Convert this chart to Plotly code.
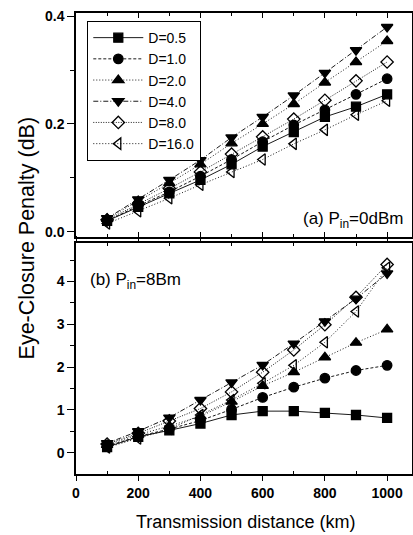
import plotly.graph_objects as go

distance_km = [100, 200, 300, 400, 500, 600, 700, 800, 900, 1000]
series_names = ["D=0.5", "D=1.0", "D=2.0", "D=4.0", "D=8.0", "D=16.0"]

# (a) Pin = 0 dBm
pen_a_d05 = [0.020, 0.046, 0.071, 0.096, 0.125, 0.158, 0.185, 0.213, 0.232, 0.255]
pen_a_d1 = [0.020, 0.048, 0.074, 0.103, 0.134, 0.167, 0.198, 0.226, 0.255, 0.284]
pen_a_d2 = [0.024, 0.057, 0.090, 0.125, 0.164, 0.200, 0.237, 0.277, 0.315, 0.354]
pen_a_d4 = [0.025, 0.060, 0.096, 0.133, 0.175, 0.213, 0.253, 0.295, 0.337, 0.380]
pen_a_d8 = [0.022, 0.051, 0.080, 0.111, 0.144, 0.176, 0.209, 0.244, 0.280, 0.315]
pen_a_d16 = [0.015, 0.038, 0.062, 0.087, 0.111, 0.134, 0.163, 0.189, 0.217, 0.243]

# (b) Pin = 8 dBm
pen_b_d05 = [0.13, 0.37, 0.52, 0.68, 0.88, 0.97, 0.97, 0.93, 0.88, 0.81]
pen_b_d1 = [0.15, 0.38, 0.55, 0.75, 1.01, 1.29, 1.53, 1.74, 1.92, 2.04]
pen_b_d2 = [0.18, 0.42, 0.62, 0.85, 1.19, 1.56, 1.88, 2.23, 2.57, 2.88]
pen_b_d4 = [0.22, 0.50, 0.82, 1.23, 1.64, 2.05, 2.55, 3.07, 3.60, 4.19]
pen_b_d8 = [0.20, 0.45, 0.74, 1.03, 1.42, 1.88, 2.40, 2.99, 3.63, 4.40]
pen_b_d16 = [0.12, 0.33, 0.55, 0.88, 1.23, 1.62, 2.04, 2.58, 3.30, 4.32]

top_values = [pen_a_d05, pen_a_d1, pen_a_d2, pen_a_d4, pen_a_d8, pen_a_d16]
bottom_values = [pen_b_d05, pen_b_d1, pen_b_d2, pen_b_d4, pen_b_d8, pen_b_d16]

x_major = [0, 200, 400, 600, 800, 1000]
x_minor = [100, 300, 500, 700, 900]
ya_major = [0.0, 0.2, 0.4]
ya_minor = [0.1, 0.3]
yb_major = [0, 1, 2, 3, 4]
yb_minor = [0.5, 1.5, 2.5, 3.5, 4.5]

symbols = ["square", "circle", "triangle-up", "triangle-down", "diamond-open", "triangle-left-open"]
dashes = ["solid", "3px,2px", "1px,2px", "5px,2px,1px,2px", "1px,1.5px", "1px,2px"]
sizes = [9, 9.5, 10, 10, 9.5, 10]

FONT = "Arial, Liberation Sans, sans-serif"

fig = go.Figure()
for i, name in enumerate(series_names):
    marker = dict(symbol=symbols[i], size=sizes[i], color="black",
                  line=dict(color="black", width=1.3))
    line = dict(color="black", width=0.9, dash=dashes[i])
    fig.add_trace(go.Scatter(x=distance_km, y=top_values[i], name=name,
                             mode="lines+markers", marker=marker, line=line,
                             xaxis="x", yaxis="y", showlegend=True))
    fig.add_trace(go.Scatter(x=distance_km, y=bottom_values[i], name=name,
                             mode="lines+markers", marker=marker, line=line,
                             xaxis="x2", yaxis="y2", showlegend=False))

tickfont = dict(family=FONT, size=14, color="black", weight="bold")


def axis(**kw):
    d = dict(showline=True, linecolor="black", linewidth=1.5, mirror="ticks",
             showgrid=False, zeroline=False, tickwidth=1.2, tickcolor="black",
             automargin=False, tickfont=tickfont)
    d.update(kw)
    return d


fig.update_layout(
    width=413, height=535,
    margin=dict(l=76, r=1, t=13, b=61),
    paper_bgcolor="white", plot_bgcolor="white",
    font=dict(family=FONT, color="black"),
    xaxis=axis(domain=[0, 1], anchor="y", range=[0, 1080], tickvals=x_major,
               showticklabels=False, ticks="inside", ticklen=5,
               minor=dict(tickvals=x_minor, ticks="inside", ticklen=3, tickcolor="black")),
    yaxis=axis(domain=[0.514, 1], anchor="x", range=[-0.01, 0.406],
               tickvals=ya_major, tickformat=".1f", ticks="outside", ticklen=7,
               minor=dict(tickvals=ya_minor, ticks="outside", ticklen=4, tickcolor="black")),
    xaxis2=axis(domain=[0, 1], anchor="y2", range=[0, 1080], tickvals=x_major,
                ticks="outside", ticklen=5,
                minor=dict(tickvals=x_minor, ticks="inside", ticklen=3, tickcolor="black")),
    yaxis2=axis(domain=[0, 0.501], anchor="x2", range=[-0.5, 4.9],
                tickvals=yb_major, ticks="outside", ticklen=7,
                minor=dict(tickvals=yb_minor, ticks="outside", ticklen=4, tickcolor="black")),
    legend=dict(x=0.033, y=0.983, xanchor="left", yanchor="top",
                bgcolor="white", bordercolor="black", borderwidth=1.2,
                font=dict(family=FONT, size=14, color="black"),
                itemwidth=50, tracegroupgap=0),
    annotations=[
        dict(text="(a) P<sub>in</sub>=0dBm", xref="paper", yref="paper", x=0.979, y=0.522,
             xanchor="right", yanchor="bottom", showarrow=False,
             font=dict(family=FONT, size=17, color="black")),
        dict(text="(b) P<sub>in</sub>=8Bm", xref="paper", yref="paper", x=0.036, y=0.447,
             xanchor="left", yanchor="top", showarrow=False,
             font=dict(family=FONT, size=17, color="black")),
        dict(text="Eye-Closure Penalty (dB)", xref="paper", yref="paper", x=-0.146, y=0.513,
             xanchor="center", yanchor="middle", textangle=-90, showarrow=False,
             font=dict(family=FONT, size=21.5, color="black")),
        dict(text="Transmission distance (km)", xref="paper", yref="paper", x=0.504, y=-0.104,
             xanchor="center", yanchor="middle", showarrow=False,
             font=dict(family=FONT, size=18, color="black")),
    ],
)

fig.write_html("out.html", config={"displayModeBar": False},
               post_script="document.body.style.margin='0px';")
